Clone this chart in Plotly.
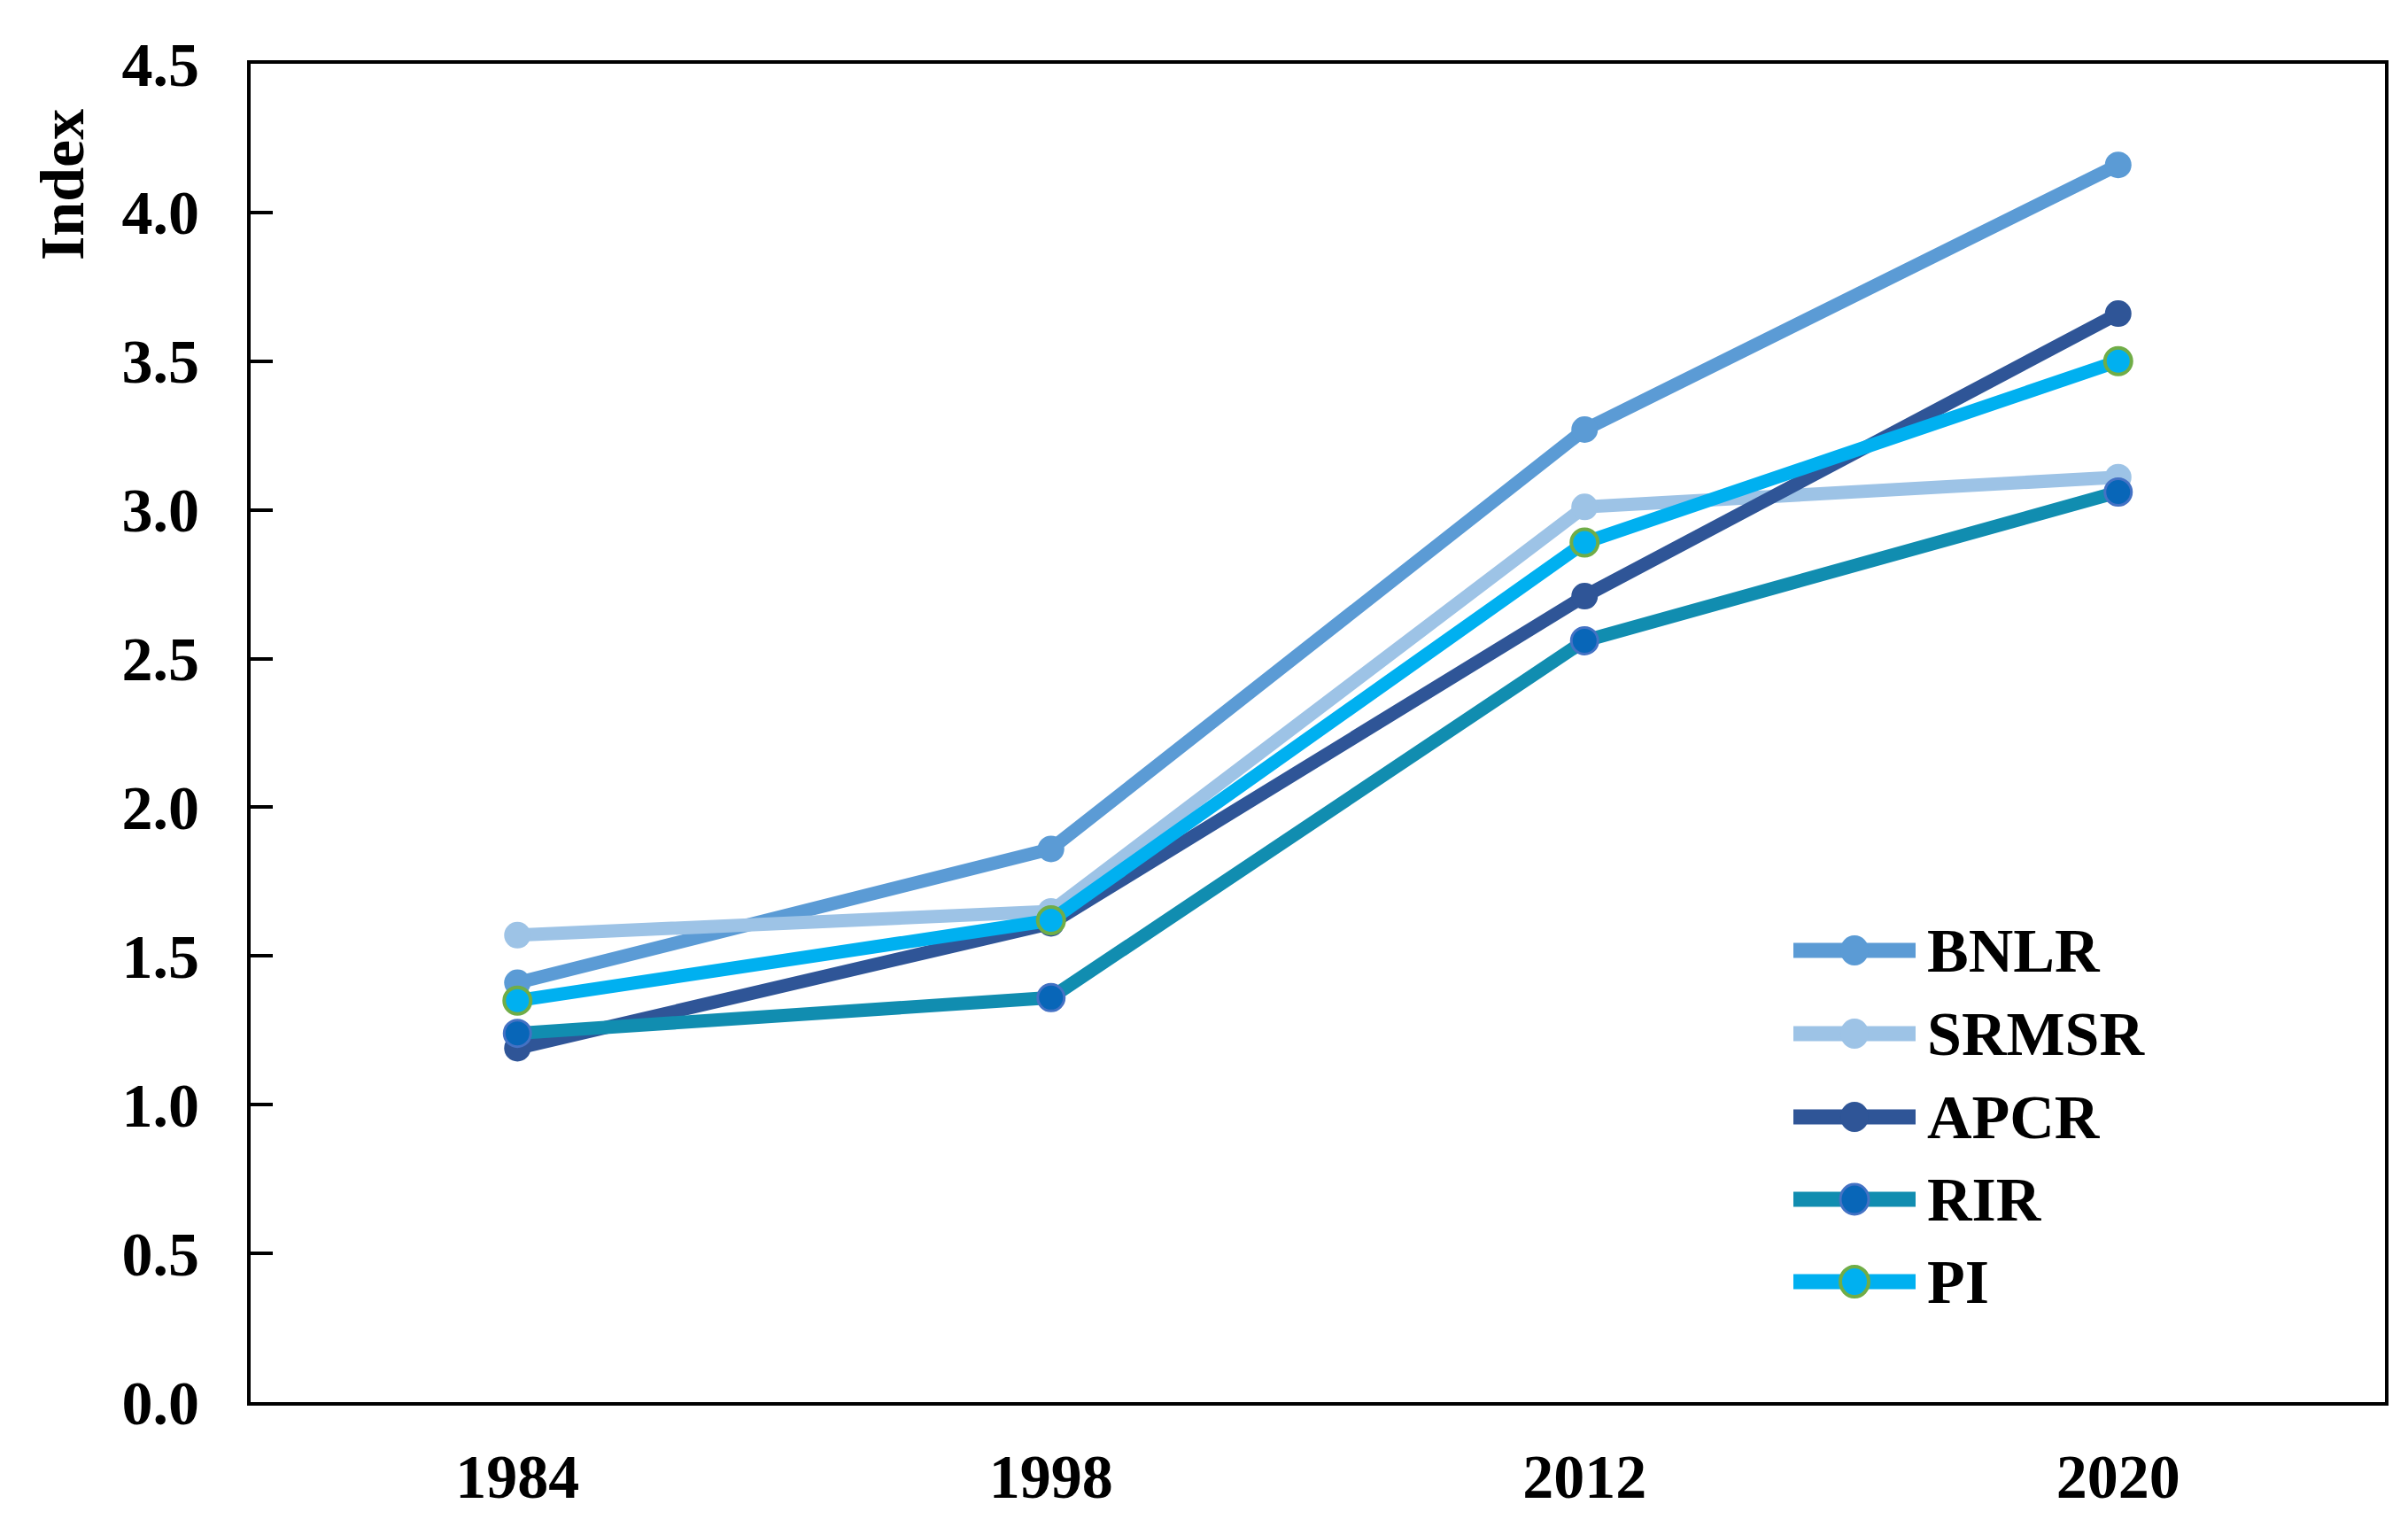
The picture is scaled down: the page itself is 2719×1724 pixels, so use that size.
import plotly.graph_objects as go

years = ["1984", "1998", "2012", "2020"]
series_names = ["BNLR", "SRMSR", "APCR", "RIR", "PI"]
bnlr = [1.41, 1.86, 3.27, 4.16]
srmsr = [1.57, 1.65, 3.01, 3.11]
apcr = [1.19, 1.61, 2.71, 3.66]
rir = [1.24, 1.36, 2.56, 3.06]
pi = [1.35, 1.62, 2.89, 3.50]
y_ticks = [0.0, 0.5, 1.0, 1.5, 2.0, 2.5, 3.0, 3.5, 4.0, 4.5]

line_colors = ["#5B9BD5", "#9DC3E6", "#2F5597", "#118DB0", "#00B0F0"]
marker_colors = ["#5B9BD5", "#9DC3E6", "#2F5597", "#0866B8", "#00B0F0"]
marker_lines = ["#5B9BD5", "#9DC3E6", "#2F5597", "#4472C4", "#70AD47"]
marker_line_w = [0, 0, 0, 3, 4]
values = [bnlr, srmsr, apcr, rir, pi]

FONT = "Liberation Serif"
W, H = 2719, 1724
L, R, T, B = 275, 34, 64, 149
PW, PH = W - L - R, H - T - B

fig = go.Figure()
for name, vals, lc, mc, ml, mw in zip(series_names, values, line_colors,
                                      marker_colors, marker_lines, marker_line_w):
    fig.add_trace(go.Scatter(
        x=years, y=vals, name=name, mode="lines+markers",
        line=dict(color=lc, width=15),
        marker=dict(color=mc, size=30, line=dict(color=ml, width=mw)),
        showlegend=False,
    ))

# custom legend (thick sample lines as in the reference)
leg_x0, leg_x1, leg_mx, leg_tx = 2017, 2155, 2086, 2166
leg_rows = [1065, 1159, 1253, 1346, 1439]
shapes = []
annotations = []
for i, name in enumerate(series_names):
    yp = (H - B - leg_rows[i]) / PH
    shapes.append(dict(type="line", xref="paper", yref="paper",
                       x0=(leg_x0 - L) / PW, x1=(leg_x1 - L) / PW, y0=yp, y1=yp,
                       line=dict(color=line_colors[i], width=17)))
    shapes.append(dict(type="circle", xref="paper", yref="paper",
                       xsizemode="pixel", ysizemode="pixel",
                       xanchor=(leg_mx - L) / PW, yanchor=yp,
                       x0=-16, x1=16, y0=-17, y1=17,
                       fillcolor=marker_colors[i],
                       line=dict(color=marker_lines[i], width=max(marker_line_w[i], 0.1))))
    annotations.append(dict(text=f"<b>{name}</b>", xref="paper", yref="paper",
                            x=(leg_tx - L) / PW, y=yp, xanchor="left", yanchor="middle",
                            showarrow=False,
                            font=dict(family=FONT, size=70, color="black")))

annotations.append(dict(
    text="<b>Index</b>", textangle=-90, xref="paper", yref="paper",
    x=(63 - L) / PW, y=(H - B - 200) / PH, xanchor="center", yanchor="middle",
    showarrow=False, font=dict(family=FONT, size=70, color="black"),
))

fig.update_layout(
    width=W, height=H,
    margin=dict(l=L, r=R, t=T, b=B),
    paper_bgcolor="white", plot_bgcolor="white",
    font=dict(family=FONT, size=70, color="black"),
    showlegend=False,
    xaxis=dict(
        type="category", range=[-0.5, 3.5],
        showline=True, linecolor="black", linewidth=4, mirror=True,
        ticks="", showgrid=False, zeroline=False,
        tickfont=dict(family=FONT, size=70, color="black", weight="bold"),
        ticklabelstandoff=20,
    ),
    yaxis=dict(
        range=[0, 4.5], tickvals=y_ticks,
        ticktext=[f"{v:.1f}" for v in y_ticks],
        showline=True, linecolor="black", linewidth=4, mirror=True,
        ticks="inside", ticklen=25, tickwidth=4, tickcolor="black",
        showgrid=False, zeroline=False,
        tickfont=dict(family=FONT, size=70, color="black", weight="bold"),
        ticklabelstandoff=40,
    ),
    shapes=shapes,
    annotations=annotations,
)

fig.write_html("out.html")
